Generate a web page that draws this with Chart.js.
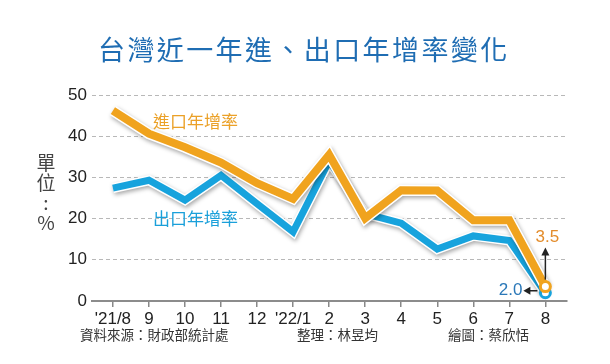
<!DOCTYPE html>
<html>
<head>
<meta charset="utf-8">
<script src="https://cdn.jsdelivr.net/npm/chart.js@4.4.0/dist/chart.umd.min.js"></script>
<style>
  html, body { margin: 0; padding: 0; background: #fff; }
  #wrap { position: relative; width: 610px; height: 364px; overflow: hidden; font-family: "Noto Sans CJK TC", "Noto Sans", sans-serif; }
  #wrap canvas { position: absolute; left: 0; top: 0; }
  .txt { position: absolute; white-space: nowrap; line-height: 1; }
  #title { left: 98px; top: 35px; font-size: 27px; letter-spacing: 2.4px; color: #1f6db3; font-weight: 400; }
  #unit { left: 36px; top: 152px; width: 20px; text-align: center; font-size: 19px; color: #444; line-height: 1.05; }
  .series { font-size: 17px; font-weight: 400; }
  #impLbl { left: 153px; top: 112px; color: #eba128; }
  #expLbl { left: 153px; top: 209px; color: #1aa0da; }
  .foot { top: 328px; font-size: 13.5px; color: #333; }
</style>
</head>
<body>
<div id="wrap">
  <canvas id="chart" width="610" height="364"></canvas>
  <div class="txt" id="title">台灣近一年進、出口年增率變化</div>
  <div class="txt" id="unit">單<br>位<br>:<br>%</div>
  <div class="txt series" id="impLbl">進口年增率</div>
  <div class="txt series" id="expLbl">出口年增率</div>
  <div class="txt foot" style="left:80px">資料來源：財政部統計處</div>
  <div class="txt foot" style="left:297px">整理：林昱均</div>
  <div class="txt foot" style="left:448px">繪圖：蔡欣恬</div>
</div>
<script>
const months = ["'21/8", "9", "10", "11", "12", "'22/1", "2", "3", "4", "5", "6", "7", "8"];
const importGrowth = [46.2, 40.6, 37.3, 33.6, 28.6, 24.8, 35.5, 20.1, 26.9, 26.8, 19.6, 19.6, 3.5];
const exportGrowth = [27.4, 29.3, 24.5, 30.5, 23.6, 16.8, 34.0, 21.2, 18.9, 12.6, 15.8, 14.7, 2.0];
const yTicks = [0, 10, 20, 30, 40, 50];

const orange = '#f0a31e';
const blue = '#17a3dd';
const last = months.length - 1;

function toPoints(arr) {
  return arr.map((v, i) => ({ x: i, y: v }));
}

// white outline + drop shadow under the coloured lines
const shadowPlugin = {
  id: 'shadow',
  beforeDatasetDraw(chart, args) {
    const ds = chart.data.datasets[args.index];
    chart.ctx.save();
    if (ds.outline) {
      chart.ctx.shadowColor = 'rgba(0,0,0,0.35)';
      chart.ctx.shadowBlur = 4;
      chart.ctx.shadowOffsetX = 1;
      chart.ctx.shadowOffsetY = 2;
    }
  },
  afterDatasetDraw(chart) {
    chart.ctx.restore();
  }
};

// last-value callouts
const calloutPlugin = {
  id: 'callout',
  afterDatasetsDraw(chart) {
    const { ctx, scales: { x, y } } = chart;
    const px = x.getPixelForValue(last);
    const pyImp = y.getPixelForValue(importGrowth[last]);
    const pyExp = y.getPixelForValue(exportGrowth[last]);
    ctx.save();
    ctx.strokeStyle = '#222';
    ctx.fillStyle = '#222';
    ctx.lineWidth = 1.5;
    // up arrow
    ctx.beginPath();
    ctx.moveTo(px, pyImp - 7);
    ctx.lineTo(px, pyImp - 34);
    ctx.stroke();
    ctx.beginPath();
    ctx.moveTo(px, pyImp - 39);
    ctx.lineTo(px - 4, pyImp - 31);
    ctx.lineTo(px + 4, pyImp - 31);
    ctx.closePath();
    ctx.fill();
    // left arrow
    ctx.beginPath();
    ctx.moveTo(px - 8, pyExp - 2);
    ctx.lineTo(px - 18, pyExp - 2);
    ctx.stroke();
    ctx.beginPath();
    ctx.moveTo(px - 22, pyExp - 2);
    ctx.lineTo(px - 15, pyExp - 6);
    ctx.lineTo(px - 15, pyExp + 2);
    ctx.closePath();
    ctx.fill();
    ctx.font = '17px "Liberation Sans", Arial, sans-serif';
    ctx.textBaseline = 'middle';
    ctx.textAlign = 'center';
    ctx.fillStyle = '#e38c2b';
    ctx.fillText(importGrowth[last].toFixed(1), px + 2, pyImp - 49);
    ctx.textAlign = 'right';
    ctx.fillStyle = '#2b78b8';
    ctx.fillText(exportGrowth[last].toFixed(1), px - 23, pyExp - 2);
    ctx.restore();
  }
};

const endRadius = ctx => ctx.dataIndex === last ? 5 : 0;

new Chart(document.getElementById('chart'), {
  type: 'line',
  data: {
    datasets: [
      {
        data: toPoints(importGrowth), borderColor: orange, borderWidth: 8,
        pointRadius: endRadius, pointBackgroundColor: '#fff', pointBorderColor: orange, pointBorderWidth: 3,
        order: 0, clip: false, tension: 0
      },
      {
        data: toPoints(importGrowth), borderColor: '#fff', borderWidth: 11, outline: true,
        pointRadius: 0, order: 1, clip: false, tension: 0
      },
      {
        data: toPoints(exportGrowth), borderColor: blue, borderWidth: 7,
        pointRadius: endRadius, pointBackgroundColor: '#fff', pointBorderColor: blue, pointBorderWidth: 3,
        order: 2, clip: false, tension: 0
      },
      {
        data: toPoints(exportGrowth), borderColor: '#fff', borderWidth: 10, outline: true,
        pointRadius: 0, order: 3, clip: false, tension: 0
      }
    ]
  },
  options: {
    responsive: false,
    animation: false,
    events: [],
    layout: { padding: { left: 0, top: 95, right: 43, bottom: 0 } },
    plugins: { legend: { display: false }, tooltip: { enabled: false } },
    scales: {
      x: {
        type: 'linear',
        min: -0.58,
        max: 12.6,
        afterFit(scale) { scale.height = 63; },
        afterBuildTicks(scale) { scale.ticks = months.map((m, i) => ({ value: i })); },
        ticks: {
          callback: v => months[v],
          color: '#222',
          padding: 2,
          maxRotation: 0,
          autoSkip: false,
          font: { family: '"Liberation Sans", Arial, sans-serif', size: 17 }
        },
        grid: { drawOnChartArea: false, drawTicks: true, tickLength: 6, color: '#888', lineWidth: 1.5 },
        border: { display: true, color: '#8c8c8c', width: 2 }
      },
      y: {
        min: 0,
        max: 50,
        afterFit(scale) { scale.width = 92; },
        afterBuildTicks(scale) { scale.ticks = yTicks.map(v => ({ value: v })); },
        ticks: {
          color: '#222',
          padding: 5,
          font: { family: '"Liberation Sans", Arial, sans-serif', size: 17 }
        },
        grid: {
          drawTicks: false,
          color: c => c.tick.value === 0 ? 'rgba(0,0,0,0)' : '#b8b8b8',
          lineWidth: 1
        },
        border: { display: false, dash: [4, 3] }
      }
    }
  },
  plugins: [shadowPlugin, calloutPlugin]
});
</script>
</body>
</html>
